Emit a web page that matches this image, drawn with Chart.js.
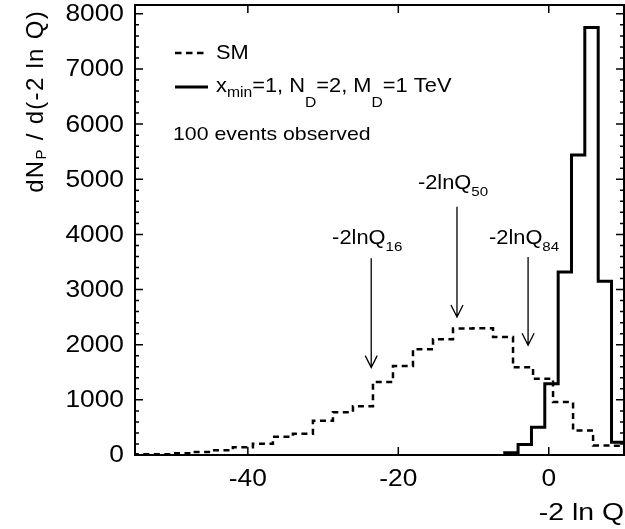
<!DOCTYPE html>
<html>
<head>
<meta charset="utf-8">
<title>-2 ln Q distribution</title>
<script src="https://cdn.jsdelivr.net/npm/chart.js@4.4.1/dist/chart.umd.min.js"></script>
<style>
  html, body { margin: 0; padding: 0; background: #fff; }
  canvas { display: block; }
</style>
</head>
<body>
<canvas id="lnqChart" width="625" height="529"></canvas>
<script>
// SM expectation: bin edges (one more than counts) and pseudo-experiment counts
const smEdges = [-55.29, -52.63, -49.97, -47.31, -44.65, -41.99, -39.33, -36.67, -34.01,
  -31.35, -28.69, -26.03, -23.37, -20.71, -18.05, -15.39, -12.73, -10.07, -7.41, -4.75,
  -2.09, 0.57, 3.23, 5.89, 8.55, 11.21];
const smCounts = [15, 15, 30, 55, 85, 142, 203, 330, 385, 620, 777, 884, 1322, 1613,
  1916, 2098, 2295, 2300, 2140, 1590, 1384, 959, 445, 173, 170];

// signal hypothesis x_min=1, N_D=2, M_D=1 TeV
const sigEdges = [-5.85, -4.08, -2.3, -0.53, 1.25, 3.02, 4.79, 6.57, 8.34, 10.11];
const sigCounts = [40, 190, 505, 1293, 3320, 5440, 7750, 3151, 232];

const xTicks = [-40, -20, 0];
const yTicks = [0, 1000, 2000, 3000, 4000, 5000, 6000, 7000, 8000];
const yMinor = 200;

// quantile arrows: position, arrow top, arrow tip, label baseline
const quantNames = ['16', '50', '84'];
const quantX = [-23.6, -12.2, -2.75];
const quantTop = [3569, 4500, 3592];
const quantTip = [1584, 2503, 1989];
const quantLabelY = [3818, 4822, 3818];

const FONT = '"Liberation Sans", Arial, Helvetica, sans-serif';
const SX = 1.12; // text is drawn slightly wide

// histogram outline as a stepped line: rise at first edge, drop after last
function histPoints(edges, counts) {
  const pts = [{ x: edges[0], y: 0 }];
  counts.forEach((c, i) => pts.push({ x: edges[i], y: c }));
  pts.push({ x: edges[edges.length - 1], y: counts[counts.length - 1] });
  return pts;
}

function wideText(ctx, text, x, y, sx) {
  ctx.save();
  ctx.translate(x, y);
  ctx.scale(sx, 1);
  ctx.fillText(text, 0, 0);
  ctx.restore();
}

function partsWidth(ctx, parts, size, subSize, sx) {
  let w = 0;
  parts.forEach(([t, dy]) => {
    ctx.font = (dy ? subSize : size) + 'px ' + FONT;
    w += ctx.measureText(t).width * sx;
  });
  return w;
}

function drawParts(ctx, parts, x, y, size, subSize, sx) {
  let cx = x;
  parts.forEach(([t, dy]) => {
    ctx.font = (dy ? subSize : size) + 'px ' + FONT;
    wideText(ctx, t, cx, y + dy, sx);
    cx += ctx.measureText(t).width * sx;
  });
}

const decorations = {
  id: 'decorations',
  afterDatasetsDraw(chart) {
    const { ctx, chartArea: a, scales: { x, y } } = chart;
    ctx.save();
    ctx.strokeStyle = '#000';
    ctx.fillStyle = '#000';
    ctx.setLineDash([]);

    // frame
    ctx.lineWidth = 2;
    ctx.strokeRect(a.left, a.top, a.right - a.left, a.bottom - a.top);

    // inner ticks on all four sides
    ctx.lineWidth = 1.5;
    ctx.beginPath();
    for (let v = 0; v <= y.max; v += yMinor) {
      const py = y.getPixelForValue(v);
      const len = v % 1000 === 0 ? 8 : 4;
      ctx.moveTo(a.left, py); ctx.lineTo(a.left + len, py);
      ctx.moveTo(a.right, py); ctx.lineTo(a.right - len, py);
    }
    xTicks.forEach(v => {
      const px = x.getPixelForValue(v);
      ctx.moveTo(px, a.bottom); ctx.lineTo(px, a.bottom - 8);
      ctx.moveTo(px, a.top); ctx.lineTo(px, a.top + 8);
    });
    ctx.stroke();

    // tick labels
    ctx.font = '23.5px ' + FONT;
    ctx.textAlign = 'right';
    ctx.textBaseline = 'middle';
    yTicks.forEach(v => wideText(ctx, String(v), 124, y.getPixelForValue(v) + 1, SX));
    ctx.textAlign = 'center';
    ctx.textBaseline = 'alphabetic';
    xTicks.forEach(v => wideText(ctx, String(v), x.getPixelForValue(v), 486, SX));

    // axis titles
    ctx.font = '24.5px ' + FONT;
    ctx.textAlign = 'right';
    wideText(ctx, '-2 ln Q', 624, 520, 1.16);

    ctx.textAlign = 'left';
    ctx.letterSpacing = '1.3px';
    const yTitle = [['dN', 0], ['P', 3], [' / d(-2 ln Q)', 0]];
    ctx.save();
    ctx.translate(43, 10);
    ctx.rotate(-Math.PI / 2);
    const tw = partsWidth(ctx, yTitle, 24, 15, 1);
    drawParts(ctx, yTitle, -tw, 0, 24, 15, 1);
    ctx.restore();
    ctx.letterSpacing = '0px';

    // legend
    ctx.lineWidth = 2.5;
    ctx.setLineDash([6.5, 4.5]);
    ctx.beginPath();
    ctx.moveTo(175, 53); ctx.lineTo(204, 53);
    ctx.stroke();
    ctx.setLineDash([]);
    ctx.lineWidth = 3;
    ctx.beginPath();
    ctx.moveTo(175, 87); ctx.lineTo(208, 87);
    ctx.stroke();

    drawParts(ctx, [['SM', 0]], 216, 59, 19.5, 13, SX);
    drawParts(ctx, [['x', 0], ['min', 5], ['=1, N', 0], ['D', 15], ['=2, M', 0], ['D', 15], ['=1 TeV', 0]],
      216, 92, 19.5, 14, SX);
    drawParts(ctx, [['100 events observed', 0]], 173, 140, 19, 13, SX);

    // quantile arrows with labels
    ctx.lineWidth = 1.3;
    quantX.forEach((q, i) => {
      const px = x.getPixelForValue(q);
      const top = y.getPixelForValue(quantTop[i]);
      const tip = y.getPixelForValue(quantTip[i]);
      ctx.beginPath();
      ctx.moveTo(px, top); ctx.lineTo(px, tip);
      ctx.moveTo(px - 6, tip - 12); ctx.lineTo(px, tip); ctx.lineTo(px + 6, tip - 12);
      ctx.stroke();

      const parts = [['-2lnQ', 0], [quantNames[i], 7]];
      const w = partsWidth(ctx, parts, 19.5, 13.5, SX);
      drawParts(ctx, parts, px - 4 - w / 2, y.getPixelForValue(quantLabelY[i]), 19.5, 13.5, SX);
    });

    ctx.restore();
  }
};

new Chart(document.getElementById('lnqChart'), {
  type: 'line',
  data: {
    datasets: [
      {
        label: 'SM',
        data: histPoints(smEdges, smCounts),
        borderColor: '#000',
        borderWidth: 2.5,
        borderDash: [6, 4.5],
        stepped: 'before',
        pointRadius: 0,
        fill: false,
      },
      {
        label: 'x_min=1, N_D=2, M_D=1 TeV',
        data: histPoints(sigEdges, sigCounts),
        borderColor: '#000',
        borderWidth: 3,
        stepped: 'before',
        pointRadius: 0,
        fill: false,
      },
    ],
  },
  options: {
    responsive: false,
    animation: false,
    devicePixelRatio: 1,
    layout: { padding: { left: 135, right: 1, top: 5, bottom: 74 } },
    scales: {
      x: { type: 'linear', min: -55, max: 10, display: false },
      y: { type: 'linear', min: 0, max: 8160, display: false },
    },
    plugins: {
      legend: { display: false },
      tooltip: { enabled: false },
    },
  },
  plugins: [decorations],
});
</script>
</body>
</html>
